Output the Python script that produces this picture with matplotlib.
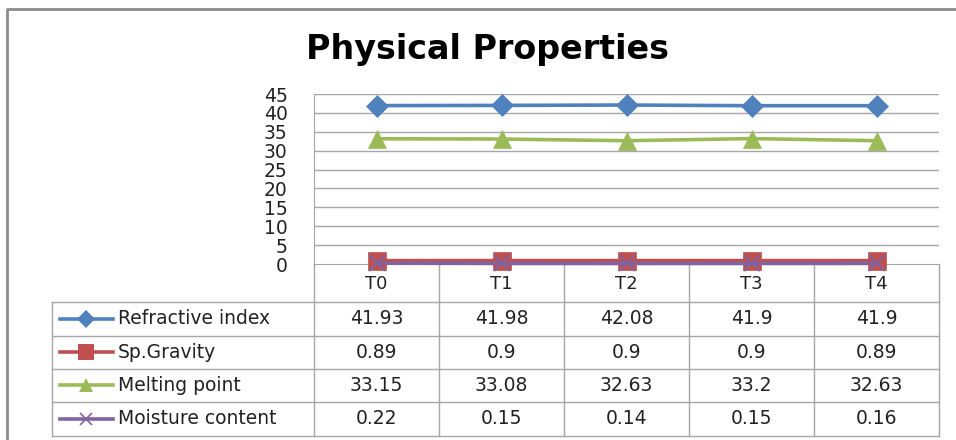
import matplotlib
matplotlib.use("Agg")
import matplotlib.pyplot as plt
from matplotlib.lines import Line2D

# --- data ---
categories = ["T0", "T1", "T2", "T3", "T4"]
series_names = ["Refractive index", "Sp.Gravity", "Melting point", "Moisture content"]
refractive_index = [41.93, 41.98, 42.08, 41.9, 41.9]
sp_gravity = [0.89, 0.9, 0.9, 0.9, 0.89]
melting_point = [33.15, 33.08, 32.63, 33.2, 32.63]
moisture_content = [0.22, 0.15, 0.14, 0.15, 0.16]
y_ticks = [0, 5, 10, 15, 20, 25, 30, 35, 40, 45]
title = "Physical Properties"

series_values = [refractive_index, sp_gravity, melting_point, moisture_content]
colors = ["#4F81BD", "#C0504D", "#9BBB59", "#8064A2"]
markers = ["D", "s", "^", "x"]
msizes = [11, 13, 13, 11]

FONT = ["DejaVu Sans"]
plt.rcParams["font.family"] = FONT
plt.rcParams["font.sans-serif"] = FONT

W, H = 956, 440
fig = plt.figure(figsize=(W / 100, H / 100), dpi=100)

grid_c = "#A6A6A6"
txt_c = "#222222"
fs = 13.5

# pixel -> figure fraction helpers
def fx(x):
    return x / W

def fy(y):
    return 1 - y / H

# plot area geometry (pixels)
L, R, T, B = 314, 939, 94, 264
ax = fig.add_axes([fx(L), fy(B), fx(R) - fx(L), fy(T) - fy(B)])
x = list(range(len(categories)))
ax.set_xlim(-0.5, len(categories) - 0.5)
ax.set_ylim(y_ticks[0], y_ticks[-1])
ax.set_yticks(y_ticks)
ax.set_yticklabels([str(v) for v in y_ticks], fontsize=fs, color=txt_c,
                   family=FONT)
ax.set_xticks([])
ax.tick_params(axis="y", length=0, pad=19)
for yv in y_ticks[1:]:
    ax.axhline(yv, color=grid_c, lw=1.0, zorder=0)
for s in ["top", "right"]:
    ax.spines[s].set_visible(False)
ax.spines["left"].set_color(grid_c)
ax.spines["bottom"].set_color(grid_c)

draw_order = [0, 2, 1, 3]
for i in draw_order:
    mew = 1.5 if markers[i] == "x" else 0.5
    ax.plot(x, series_values[i], color=colors[i], lw=2.6, marker=markers[i],
            markersize=msizes[i], markeredgewidth=mew,
            markeredgecolor=colors[i], clip_on=False, zorder=3 + i)

# overlay in pixel coordinates for frame and data table
ov = fig.add_axes([0, 0, 1, 1], zorder=-1)
ov.set_xlim(0, W)
ov.set_ylim(H, 0)
ov.axis("off")

# outer chart border
ov.plot([7, 7, 960], [445, 9, 9], color="#8C8C8C", lw=2)

fig.text(fx(488), fy(49), title, ha="center", va="center",
         fontsize=24, fontweight="bold", family=FONT, color="#000000")

col_edges = [L + k * (R - L) / len(categories) for k in range(len(categories) + 1)]
row_edges = [302, 336, 369, 402, 436]
leg_left = 52

# category header row
for xe in col_edges:
    ov.plot([xe, xe], [B, row_edges[0]], color=grid_c, lw=1)
for k, c in enumerate(categories):
    ov.text((col_edges[k] + col_edges[k + 1]) / 2, (B + row_edges[0]) / 2 + 1, c,
            ha="center", va="center", fontsize=fs - 0.5, color=txt_c, family=FONT)

# table grid
for ye in row_edges:
    ov.plot([leg_left, R], [ye, ye], color=grid_c, lw=1)
for xe in [leg_left] + col_edges:
    ov.plot([xe, xe], [row_edges[0], row_edges[-1]], color=grid_c, lw=1)

leg_msizes = [9, 11, 10, 9]
for r, name in enumerate(series_names):
    yc = (row_edges[r] + row_edges[r + 1]) / 2
    ov.add_line(Line2D([60, 113], [yc, yc], color=colors[r], lw=2.6))
    mew = 1.2 if markers[r] == "x" else 0
    ov.plot([86], [yc], marker=markers[r], color=colors[r],
            markersize=leg_msizes[r], markeredgewidth=mew)
    ov.text(118, yc, name, ha="left", va="center", fontsize=fs, color=txt_c,
            family=FONT)
    for k, v in enumerate(series_values[r]):
        ov.text((col_edges[k] + col_edges[k + 1]) / 2, yc, f"{v:g}",
                ha="center", va="center", fontsize=fs, color=txt_c, family=FONT)

fig.savefig("out.png", dpi=100, facecolor="white")
